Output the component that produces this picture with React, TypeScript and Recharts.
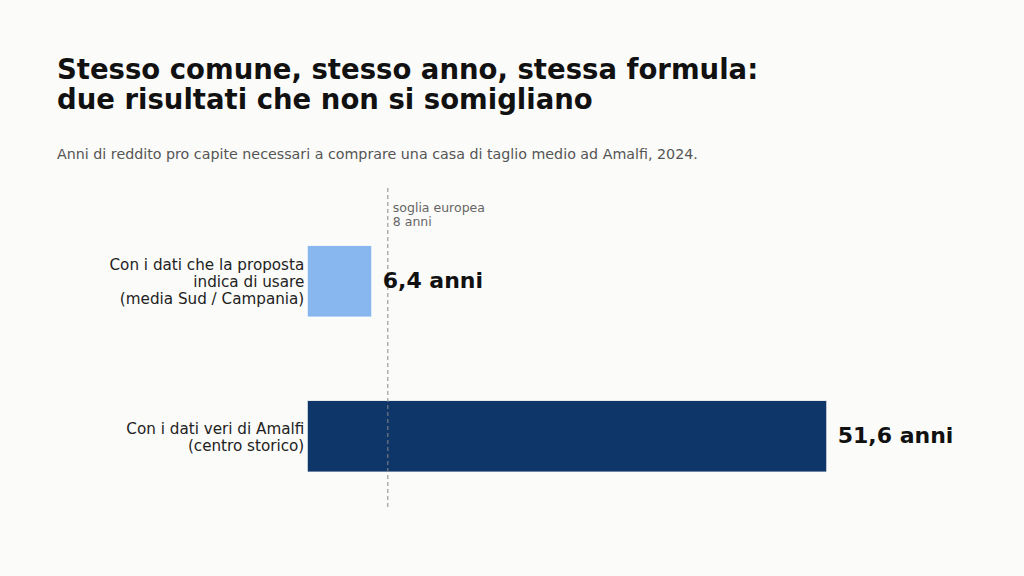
import { Bar, BarChart, Cell, LabelList, ReferenceLine, XAxis, YAxis } from "recharts";

const categories = [
  "Con i dati che la proposta\nindica di usare\n(media Sud / Campania)",
  "Con i dati veri di Amalfi\n(centro storico)",
];
const yearsOfIncome = [6.4, 51.6];
const euThreshold = 8;
const euThresholdLabel = ["soglia europea", "8 anni"];

const barColors = ["#88B6EF", "#0E3668"];
const font = "'DejaVu Sans', sans-serif";

const data = categories.map((name, i) => ({ name, years: yearsOfIncome[i] }));

const formatYears = (v: number) => `${v.toFixed(1).replace(".", ",")} anni`;

function CategoryTick({ x, y, payload }: any) {
  const lines = String(payload.value).split("\n");
  const lineHeight = 17;
  const first = y + 6 - ((lines.length - 1) * lineHeight) / 2;
  return (
    <text x={x} y={first} textAnchor="end" fontSize={15.2} fill="#222" fontFamily={font}>
      {lines.map((line, i) => (
        <tspan key={i} x={x} y={first + i * lineHeight}>
          {line}
        </tspan>
      ))}
    </text>
  );
}

function ThresholdLabel({ viewBox }: any) {
  return (
    <text fontSize={12.5} fill="#666" fontFamily={font}>
      {euThresholdLabel.map((line, i) => (
        <tspan key={i} x={viewBox.x + 5} y={viewBox.y + 26 + i * 14}>
          {line}
        </tspan>
      ))}
    </text>
  );
}

export default function App() {
  return (
    <div
      style={{
        position: "fixed",
        left: 0,
        top: 0,
        width: 1024,
        height: 576,
        background: "#FBFBF9",
        fontFamily: font,
      }}
    >
      <div
        style={{
          position: "absolute",
          left: 57,
          top: 54,
          fontSize: 27.5,
          lineHeight: "30px",
          fontWeight: "bold",
          color: "#111",
          whiteSpace: "pre",
        }}
      >
        {"Stesso comune, stesso anno, stessa formula:\ndue risultati che non si somigliano"}
      </div>
      <div
        style={{
          position: "absolute",
          left: 57,
          top: 146,
          fontSize: 14.25,
          lineHeight: "16px",
          color: "#555",
          whiteSpace: "pre",
        }}
      >
        Anni di reddito pro capite necessari a comprare una casa di taglio medio ad Amalfi, 2024.
      </div>
      <div style={{ position: "absolute", left: 0, top: 0 }}>
        <BarChart
          width={1024}
          height={576}
          data={data}
          layout="vertical"
          margin={{ top: 186, right: 112.7, bottom: 69, left: 0 }}
        >
          <XAxis type="number" domain={[0, 60]} hide />
          <YAxis
            type="category"
            dataKey="name"
            width={307.3}
            axisLine={false}
            tickLine={false}
            tickSize={0}
            tickMargin={3}
            padding={{ top: 17.5, bottom: -6.5 }}
            tick={<CategoryTick />}
            interval={0}
          />
          <ReferenceLine
            x={euThreshold}
            stroke="#888"
            strokeWidth={1}
            strokeDasharray="4 3"
            label={<ThresholdLabel />}
          />
          <Bar dataKey="years" barSize={71.5} stroke="#fff" strokeWidth={0.8} isAnimationActive={false}>
            {data.map((d, i) => (
              <Cell key={d.name} fill={barColors[i]} />
            ))}
            <LabelList
              dataKey="years"
              position="right"
              offset={11}
              dy={-1.5}
              formatter={(v: any) => formatYears(Number(v))}
              style={{ fontSize: 22, fontWeight: "bold", fill: "#111", fontFamily: font }}
            />
          </Bar>
        </BarChart>
      </div>
    </div>
  );
}
